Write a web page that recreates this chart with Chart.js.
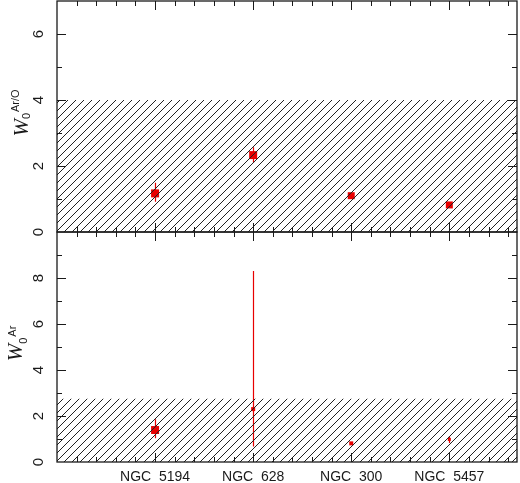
<!DOCTYPE html>
<html>
<head>
<meta charset="utf-8">
<script src="https://cdn.jsdelivr.net/npm/chart.js@4/dist/chart.umd.min.js"></script>
<style>
body { margin: 0; background: #fff; width: 520px; height: 483px; overflow: hidden; position: relative; }
canvas { position: absolute; left: 0; }
#topChart { top: 0; }
#botChart { top: 222px; }
</style>
</head>
<body>
<canvas id="topChart" width="520" height="242"></canvas>
<canvas id="botChart" width="520" height="261"></canvas>
<script>
// galaxies along the x axis
const galaxies = ['NGC 5194', 'NGC 628', 'NGC 300', 'NGC 5457']
const galaxyPos = [1, 2, 3, 4]

// upper panel: W0 Ar/O
const ratioW = [1.17, 2.33, 1.10, 0.82]
const ratioLo = [0.92, 2.10, 1.05, 0.78]
const ratioHi = [1.49, 2.57, 1.15, 0.86]
const ratioLimit = 4

// lower panel: W0 Ar
const arW = [1.39, 2.30, 0.81, 0.98]
const arLo = [1.03, 0.67, 0.78, 0.83]
const arHi = [1.86, 8.30, 0.85, 1.13]
const arLimit = 2.75

const xMin = 0, xMax = 4.69
const red = 'rgb(232,0,0)'
const ink = '#1a1a1a'

function hatch(ctx) {
    let c = document.createElement('canvas')
    c.width = 8; c.height = 8
    let g = c.getContext('2d')
    g.strokeStyle = '#222'
    g.lineWidth = 1
    g.beginPath()
    g.moveTo(0, 8); g.lineTo(8, 0)
    g.moveTo(-1, 1); g.lineTo(1, -1)
    g.moveTo(7, 9); g.lineTo(9, 7)
    g.stroke()
    return ctx.createPattern(c, 'repeat')
}

const framePlugin = {
    id: 'frame',
    beforeDatasetsDraw(chart, args, o) {
        // error bars, under the markers
        const ctx = chart.ctx, xs = chart.scales.x, ys = chart.scales.y
        ctx.save()
        ctx.strokeStyle = red
        ctx.lineWidth = 1.2
        ctx.beginPath()
        galaxyPos.forEach((p, i) => {
            let px = Math.round(xs.getPixelForValue(p)) + 0.5
            ctx.moveTo(px, ys.getPixelForValue(o.lo[i]))
            ctx.lineTo(px, ys.getPixelForValue(o.hi[i]))
        })
        ctx.stroke()
        ctx.restore()
    },
    afterDraw(chart, args, o) {
        const ctx = chart.ctx, xs = chart.scales.x, ys = chart.scales.y
        const { left, right, top, bottom } = chart.chartArea
        ctx.save()
        ctx.strokeStyle = ink
        ctx.lineWidth = 1
        ctx.beginPath()
        for (let k = 1; k * 0.2 < xMax; k++) {
            let v = k * 0.2
            let major = k % 5 == 0
            let len = major ? 9 : 5
            let px = Math.round(xs.getPixelForValue(v)) + 0.5
            ctx.moveTo(px, bottom); ctx.lineTo(px, bottom - len)
            ctx.moveTo(px, top); ctx.lineTo(px, top + len)
        }
        for (let v = 1; v < ys.max; v++) {
            let len = v % 2 == 0 ? 9 : 5
            let py = Math.round(ys.getPixelForValue(v)) + 0.5
            ctx.moveTo(left, py); ctx.lineTo(left + len, py)
            ctx.moveTo(right, py); ctx.lineTo(right - len, py)
        }
        ctx.stroke()
        ctx.lineWidth = 1.3
        ctx.strokeRect(left, top, right - left, bottom - top)

        // rotated y tick labels
        ctx.fillStyle = ink
        ctx.font = '15px "Liberation Sans", Arial, sans-serif'
        ctx.textAlign = 'center'
        ctx.textBaseline = 'middle'
        for (let v = 0; v < ys.max; v += 2) {
            ctx.save()
            ctx.translate(39, ys.getPixelForValue(v))
            ctx.rotate(-Math.PI / 2)
            ctx.fillText(String(v), 0, 0)
            ctx.restore()
        }

        // x labels under the lower panel
        if (o.xLabels) {
            ctx.font = '14px "Liberation Sans", Arial, sans-serif'
            ctx.textBaseline = 'alphabetic'
            galaxyPos.forEach((p, i) => {
                ctx.fillText(galaxies[i].replace(' ', '  '), xs.getPixelForValue(p), bottom + 19)
            })
        }

        // axis title W0^sup, rotated
        let cy = (top + bottom) / 2 - 3
        ctx.translate(0, cy)
        ctx.rotate(-Math.PI / 2)
        ctx.textAlign = 'left'
        ctx.font = 'italic 21px "Liberation Serif", "DejaVu Serif", serif'
        let wW = ctx.measureText('W').width
        ctx.font = '11px "Liberation Sans", Arial, sans-serif'
        let w0 = ctx.measureText('0').width
        let wS = ctx.measureText(o.title).width
        let u = -(wW + w0 + wS) / 2
        ctx.font = 'italic 21px "Liberation Serif", "DejaVu Serif", serif'
        ctx.fillText('W', u, 22)
        ctx.font = '11px "Liberation Sans", Arial, sans-serif'
        ctx.fillText('0', u + wW, 27)
        ctx.fillText(o.title, u + wW + w0 + 1, 16)
        ctx.restore()
    }
}

function makePanel(id, values, lo, hi, limit, yMax, sizes, title, xLabels, pad) {
    const ctx = document.getElementById(id).getContext('2d')
    return new Chart(ctx, {
        type: 'line',
        data: {
            datasets: [{
                data: [{ x: xMin, y: limit }, { x: xMax, y: limit }],
                borderWidth: 0,
                borderColor: 'rgba(0,0,0,0)',
                pointRadius: 0,
                fill: 'origin',
                backgroundColor: hatch(ctx)
            }, {
                data: galaxyPos.map((p, i) => ({ x: p, y: values[i] })),
                showLine: false,
                pointStyle: 'rect',
                pointRadius: sizes.map(s => s / Math.SQRT2),
                pointBackgroundColor: red,
                pointBorderWidth: 0,
                pointBorderColor: red
            }]
        },
        options: {
            responsive: false,
            animation: false,
            devicePixelRatio: 1,
            layout: { padding: pad, autoPadding: false },
            scales: {
                x: { type: 'linear', min: xMin, max: xMax, display: false },
                y: { type: 'linear', min: 0, max: yMax, display: false }
            },
            plugins: {
                legend: { display: false },
                tooltip: { enabled: false },
                frame: { lo: lo, hi: hi, title: title, xLabels: xLabels }
            }
        },
        plugins: [framePlugin]
    })
}

makePanel('topChart', ratioW, ratioLo, ratioHi, ratioLimit, 7, [8, 8, 7, 7], 'Ar/O', false,
    { left: 57, right: 3, top: 1, bottom: 10 })
makePanel('botChart', arW, arLo, arHi, arLimit, 10, [8, 4, 4, 3], 'Ar', true,
    { left: 57, right: 3, top: 10, bottom: 21 })
</script>
</body>
</html>
